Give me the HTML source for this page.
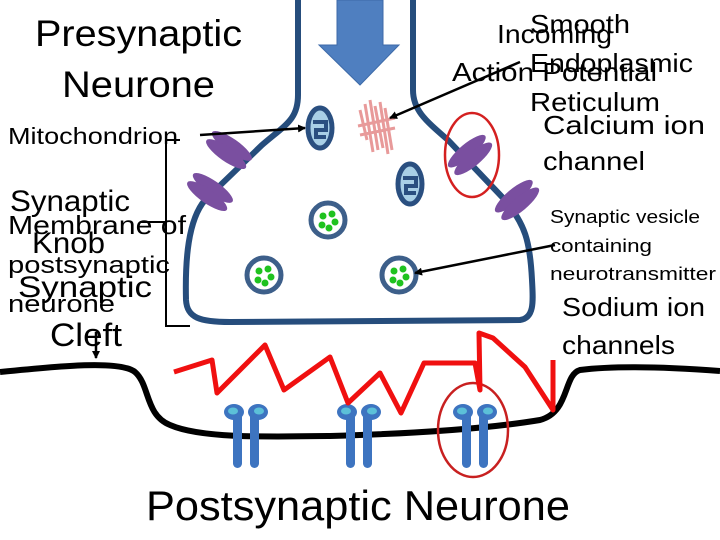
<!DOCTYPE html>
<html><head><style>
html,body{margin:0;padding:0;background:#fff;}
svg{display:block;}
text{font-family:"Liberation Sans",sans-serif;fill:#000;}
</style></head><body>
<svg width="720" height="540" viewBox="0 0 720 540" xmlns="http://www.w3.org/2000/svg">
<defs>
<marker id="ah" markerWidth="8" markerHeight="8" refX="7" refY="4" orient="auto" markerUnits="userSpaceOnUse"><path d="M0,0 L8,4 L0,8 Z" fill="#000"/></marker>
<g id="chan"><ellipse cx="0" cy="-5" rx="24" ry="7" fill="#7a4fa0"/><ellipse cx="0" cy="5" rx="24" ry="7" fill="#7a4fa0"/></g>
<g id="mito"><ellipse cx="0" cy="0" rx="12" ry="20" fill="#a8cfe6" stroke="#2a4f80" stroke-width="5"/><path d="M-7,-6 H6 V2 H-4 V9 H6" fill="none" stroke="#2a4f80" stroke-width="4"/></g>
<g id="ves"><circle r="17" fill="#fff" stroke="#3d5f8a" stroke-width="5"/><circle cx="-5" cy="-4" r="3.5" fill="#1fc21f"/><circle cx="4" cy="-6" r="3.5" fill="#1fc21f"/><circle cx="7" cy="2" r="3.5" fill="#1fc21f"/><circle cx="-6" cy="5" r="3.5" fill="#1fc21f"/><circle cx="1" cy="8" r="3.5" fill="#1fc21f"/></g>
<g id="rec">
<rect x="-13" y="0" width="9" height="56" rx="4.5" fill="#3d74c0"/><rect x="4" y="0" width="9" height="56" rx="4.5" fill="#3d74c0"/>
<ellipse cx="-12" cy="0" rx="10" ry="8" fill="#3d74c0"/><ellipse cx="12" cy="0" rx="10" ry="8" fill="#3d74c0"/>
<ellipse cx="-13" cy="-1" rx="5" ry="3.5" fill="#5cc0d8"/><ellipse cx="13" cy="-1" rx="5" ry="3.5" fill="#5cc0d8"/></g>
</defs>

<path d="M298,0 L298,95 C298,120 285,125 262,145 L205,200 C188,220 185,260 186,300 C187,318 200,322 230,322 L520,320 C535,318 533,300 532,280 C530,240 525,225 505,200 L448,140 C425,120 413,110 413,90 L413,0" fill="none" stroke="#264d7c" stroke-width="6"/>

<path d="M337,0 L383,0 L383,45 L399,45 L360,85 L319,45 L337,45 Z" fill="#4f7fc0" stroke="#3d6aa8" stroke-width="1"/>

<g stroke="#e89a9a" stroke-width="3">
<line x1="360" y1="110" x2="367" y2="140"/><line x1="365" y1="104" x2="373" y2="152"/><line x1="370" y1="100" x2="378" y2="150"/><line x1="375" y1="106" x2="383" y2="148"/><line x1="380" y1="102" x2="388" y2="154"/><line x1="385" y1="108" x2="392" y2="150"/>
<line x1="358" y1="126" x2="395" y2="118"/><line x1="360" y1="135" x2="395" y2="128"/>
</g>

<use href="#chan" transform="translate(229,150) rotate(35)"/>
<use href="#chan" transform="translate(210,192) rotate(35)"/>
<use href="#chan" transform="translate(470,155) rotate(-40)"/>
<use href="#chan" transform="translate(517,200) rotate(-40)"/>

<use href="#mito" transform="translate(320,128)"/>
<use href="#mito" transform="translate(410,184)"/>
<use href="#ves" transform="translate(328,220)"/>
<use href="#ves" transform="translate(264,275)"/>
<use href="#ves" transform="translate(399,275)"/>

<ellipse cx="472" cy="155" rx="27" ry="42" fill="none" stroke="#d42020" stroke-width="2.5"/>

<path d="M0,372 C60,366 120,360 135,372 C150,385 145,415 170,425 C200,438 260,437 330,436 C400,434 480,430 540,420 C570,412 563,375 580,370 C620,365 680,368 720,371" fill="none" stroke="#000" stroke-width="6"/>

<use href="#rec" transform="translate(246,412)"/>
<use href="#rec" transform="translate(359,412)"/>
<use href="#rec" transform="translate(475,412)"/>
<ellipse cx="473" cy="430" rx="35" ry="47" fill="none" stroke="#c82020" stroke-width="2.5"/>

<path d="M174,372 L212,360 L217,393 L265,345 L284,390 L330,357 L348,403 L380,373 L401,413 L424,363 L475,363 L480,390 L479,333 L493,338 L525,367 L553,410 L553,360" fill="none" stroke="#f01010" stroke-width="5" stroke-linejoin="round"/>

<path d="M180,140 L166,140 L166,326 L190,326" fill="none" stroke="#000" stroke-width="2"/>

<line x1="200" y1="135" x2="305" y2="128" stroke="#000" stroke-width="2.5" marker-end="url(#ah)"/>
<line x1="520" y1="62" x2="390" y2="118" stroke="#000" stroke-width="2.5" marker-end="url(#ah)"/>
<line x1="555" y1="245" x2="415" y2="273" stroke="#000" stroke-width="2.5" marker-end="url(#ah)"/>
<line x1="140" y1="222" x2="166" y2="222" stroke="#000" stroke-width="2"/>
<line x1="96" y1="332" x2="96" y2="358" stroke="#000" stroke-width="2.5" marker-end="url(#ah)"/>

<text x="35" y="46" font-size="37" textLength="207" lengthAdjust="spacingAndGlyphs">Presynaptic</text>
<text x="62" y="97" font-size="37" textLength="153" lengthAdjust="spacingAndGlyphs">Neurone</text>
<text x="8" y="144" font-size="23" textLength="170" lengthAdjust="spacingAndGlyphs">Mitochondrion</text>
<text x="10" y="211" font-size="30" textLength="120" lengthAdjust="spacingAndGlyphs">Synaptic</text>
<text x="8" y="234" font-size="26" textLength="178" lengthAdjust="spacingAndGlyphs">Membrane of</text>
<text x="32" y="253" font-size="30" textLength="73" lengthAdjust="spacingAndGlyphs">Knob</text>
<text x="8" y="273" font-size="24" textLength="162" lengthAdjust="spacingAndGlyphs">postsynaptic</text>
<text x="18" y="297" font-size="30" textLength="134" lengthAdjust="spacingAndGlyphs">Synaptic</text>
<text x="8" y="312" font-size="24" textLength="107" lengthAdjust="spacingAndGlyphs">neurone</text>
<text x="50" y="346" font-size="32" textLength="72" lengthAdjust="spacingAndGlyphs">Cleft</text>
<text x="530" y="33" font-size="26" textLength="100" lengthAdjust="spacingAndGlyphs">Smooth</text>
<text x="497" y="43" font-size="26" textLength="115" lengthAdjust="spacingAndGlyphs">Incoming</text>
<text x="530" y="72" font-size="26" textLength="163" lengthAdjust="spacingAndGlyphs">Endoplasmic</text>
<text x="452" y="81" font-size="26" textLength="205" lengthAdjust="spacingAndGlyphs">Action Potential</text>
<text x="530" y="111" font-size="26" textLength="130" lengthAdjust="spacingAndGlyphs">Reticulum</text>
<text x="543" y="134" font-size="26" textLength="162" lengthAdjust="spacingAndGlyphs">Calcium ion</text>
<text x="543" y="170" font-size="26" textLength="102" lengthAdjust="spacingAndGlyphs">channel</text>
<text x="550" y="223" font-size="18" textLength="150" lengthAdjust="spacingAndGlyphs">Synaptic vesicle</text>
<text x="550" y="252" font-size="18" textLength="102" lengthAdjust="spacingAndGlyphs">containing</text>
<text x="550" y="280" font-size="18" textLength="166" lengthAdjust="spacingAndGlyphs">neurotransmitter</text>
<text x="562" y="316" font-size="26" textLength="143" lengthAdjust="spacingAndGlyphs">Sodium ion</text>
<text x="562" y="354" font-size="26" textLength="113" lengthAdjust="spacingAndGlyphs">channels</text>
<text x="146" y="520" font-size="42" textLength="424" lengthAdjust="spacingAndGlyphs">Postsynaptic Neurone</text>
</svg>
</body></html>
